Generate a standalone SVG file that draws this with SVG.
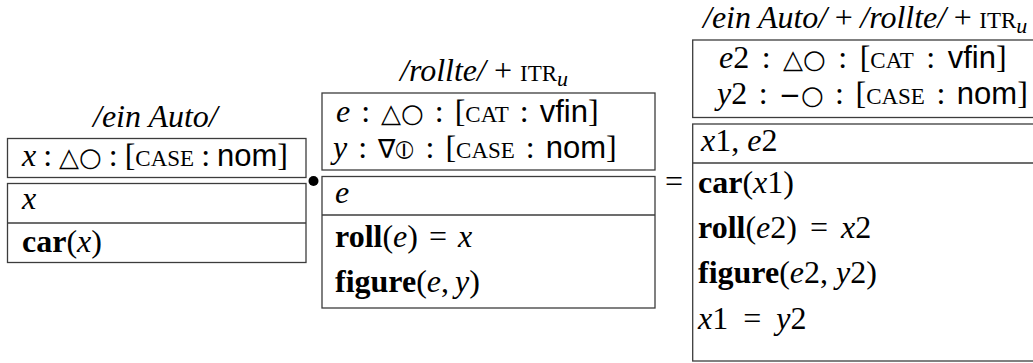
<svg xmlns="http://www.w3.org/2000/svg" width="1033" height="363" viewBox="0 0 1033 363">
<style>
.box{fill:#fff;stroke:#3c3c3c;stroke-width:1.3}
.t{font-family:"Liberation Serif","Times New Roman",serif;font-size:32px;fill:#000}
.i{font-style:italic}
.b{font-weight:bold}
.sf{font-family:"Liberation Sans",Arial,sans-serif;font-size:31px;font-style:normal}
.sc{font-size:23px;font-style:normal}
.sym{font-family:"DejaVu Sans","Noto Sans",sans-serif;font-size:26px;font-style:normal}
.sub{font-size:22px;font-style:italic}
</style>
<rect width="1033" height="363" fill="#fff"/>

<g id="node-ein-auto">
<text class="t i" x="93" y="127">/ein Auto/</text>
<rect class="box" x="7.5" y="138.5" width="298.5" height="39"/>
<text class="t" x="22" y="166" style="word-spacing:-1px"><tspan class="i">x</tspan> : <tspan class="sym">△○</tspan> : [<tspan class="sc">CASE</tspan> : <tspan class="sf">nom</tspan>]</text>
<rect class="box" x="7.5" y="183.5" width="298.5" height="79"/>
<line class="box" x1="7.5" y1="223" x2="306" y2="223"/>
<text class="t i" x="22" y="209">x</text>
<text class="t" x="22" y="252"><tspan class="b">car</tspan>(<tspan class="i">x</tspan>)</text>
</g>

<g id="node-rollte">
<text class="t" x="400" y="81"><tspan class="i">/rollte/</tspan> + <tspan class="sc">ITR</tspan><tspan class="sub" dy="5">u</tspan></text>
<rect class="box" x="322" y="93" width="333" height="77"/>
<text class="t" x="336" y="122" style="word-spacing:3px"><tspan class="i">e</tspan> : <tspan class="sym">△○</tspan> : [<tspan class="sc">CAT</tspan> : <tspan class="sf">vfin</tspan>]</text>
<text class="t" x="333" y="158" style="word-spacing:3px"><tspan class="i">y</tspan> : <tspan class="sym">∇⦶</tspan> : [<tspan class="sc">CASE</tspan> : <tspan class="sf">nom</tspan>]</text>
<rect class="box" x="322" y="176.5" width="333" height="131.5"/>
<line class="box" x1="322" y1="215" x2="655" y2="215"/>
<text class="t i" x="335" y="203">e</text>
<text class="t" x="335" y="247" style="word-spacing:3px"><tspan class="b">roll</tspan>(<tspan class="i">e</tspan>) = <tspan class="i">x</tspan></text>
<text class="t" x="335" y="292" style="word-spacing:-2px"><tspan class="b">figure</tspan>(<tspan class="i">e</tspan>, <tspan class="i">y</tspan>)</text>
</g>

<g id="node-result">
<text class="t" x="703" y="28" style="word-spacing:-0.5px"><tspan class="i">/ein Auto/</tspan> + <tspan class="i">/rollte/</tspan> + <tspan class="sc">ITR</tspan><tspan class="sub" dy="5">u</tspan></text>
<rect class="box" x="692.7" y="40" width="360" height="77.5"/>
<text class="t" x="719" y="68" style="word-spacing:4.5px"><tspan class="i">e</tspan>2 : <tspan class="sym">△○</tspan> : [<tspan class="sc">CAT</tspan> : <tspan class="sf">vfin</tspan>]</text>
<text class="t" x="717" y="104" style="word-spacing:3.5px"><tspan class="i">y</tspan>2 : <tspan class="sym">−○</tspan> : [<tspan class="sc">CASE</tspan> : <tspan class="sf">nom</tspan>]</text>
<rect class="box" x="692.7" y="124" width="360" height="237"/>
<line class="box" x1="692.7" y1="163" x2="1040" y2="163"/>
<text class="t" x="701" y="151"><tspan class="i">x</tspan>1, <tspan class="i">e</tspan>2</text>
<text class="t" x="698" y="193"><tspan class="b">car</tspan>(<tspan class="i">x</tspan>1)</text>
<text class="t" x="698" y="238" style="word-spacing:5px"><tspan class="b">roll</tspan>(<tspan class="i">e</tspan>2) = <tspan class="i">x</tspan>2</text>
<text class="t" x="698" y="283"><tspan class="b">figure</tspan>(<tspan class="i">e</tspan>2, <tspan class="i">y</tspan>2)</text>
<text class="t" x="698" y="329" style="word-spacing:7px"><tspan class="i">x</tspan>1 = <tspan class="i">y</tspan>2</text>
</g>

<g id="connectors">
<circle cx="313.5" cy="181" r="5" fill="#000"/>
<text class="t" x="665" y="192">=</text>
</g>
</svg>
